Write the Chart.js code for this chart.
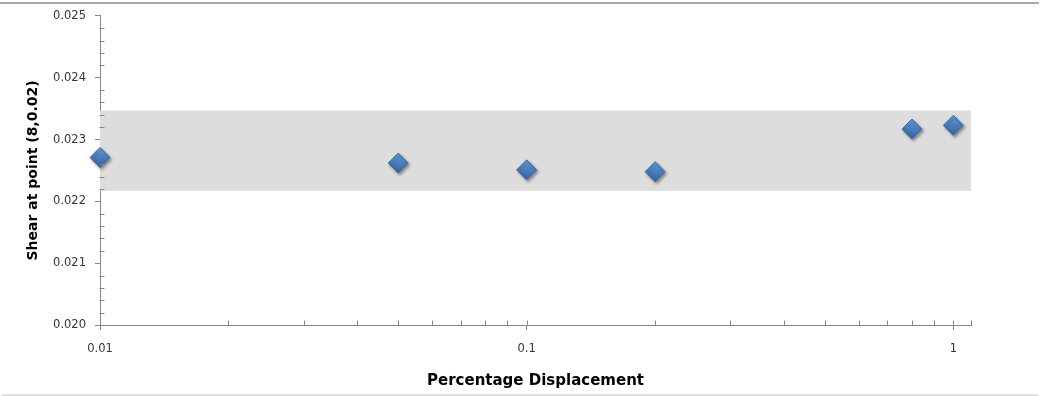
<!DOCTYPE html>
<html>
<head>
<meta charset="utf-8">
<title>Shear at point (8,0.02)</title>
<script src="https://cdn.jsdelivr.net/npm/chart.js@4.4.1/dist/chart.umd.min.js"></script>
<style>
  html, body { margin: 0; padding: 0; background: #ffffff; }
  #wrap { position: relative; width: 1047px; height: 396px; }
</style>
</head>
<body>
<div id="wrap"><canvas id="chart"></canvas></div>
<script>
// Measured shear values against displacement (log scale)
const displacement = [0.01, 0.05, 0.1, 0.2, 0.8, 1];
const shear = [0.02271, 0.02262, 0.02251, 0.02248, 0.02317, 0.02323];

// Shaded tolerance band
const bandSpan = [0.0098, 1.1];
const bandLow = [0.02217, 0.02217];
const bandHigh = [0.02347, 0.02347];

// Axis ticks
const xTickValues = [0.01, 0.1, 1];
const yTickValues = [0.020, 0.021, 0.022, 0.023, 0.024, 0.025];
const yMinorStep = 0.0002;
const xMinorMultipliers = [2, 3, 4, 5, 6, 7, 8, 9, 10];

const AXIS = '#868686';
const LABEL = '#353535';

// Excel-like inside minor ticks
const minorTicks = {
  id: 'minorTicks',
  afterDraw(chart) {
    const { ctx, scales: { x, y } } = chart;
    ctx.save();
    ctx.strokeStyle = AXIS;
    ctx.lineWidth = 1;
    ctx.beginPath();
    const x0 = Math.round(x.left) - 0.5;
    for (let v = y.min + yMinorStep; v < y.max + yMinorStep / 2; v += yMinorStep) {
      const isMajor = yTickValues.some(t => Math.abs(t - v) < yMinorStep / 10);
      if (isMajor) continue;
      const py = Math.round(y.getPixelForValue(v)) + 0.5;
      ctx.moveTo(x0, py);
      ctx.lineTo(x0 + 5, py);
    }
    const y0 = Math.round(y.bottom) + 0.5;
    const xs = [];
    xTickValues.forEach(d => xMinorMultipliers.forEach(m => xs.push(d * m)));
    xs.push(x.max);
    xs.forEach(v => {
      if (v <= x.min * 1.0001 || v > x.max * 1.0001) return;
      const px = Math.round(x.getPixelForValue(v)) + 0.5;
      ctx.moveTo(px, y0);
      ctx.lineTo(px, y0 - 5);
    });
    ctx.stroke();
    ctx.restore();
  }
};

// Frame lines and marker shadow
const frame = {
  id: 'frame',
  beforeDraw(chart) {
    const { ctx, height } = chart;
    ctx.save();
    ctx.strokeStyle = '#a8a8a8';
    ctx.lineWidth = 2;
    ctx.beginPath();
    ctx.moveTo(0, 3);
    ctx.lineTo(1039, 3);
    ctx.stroke();
    ctx.strokeStyle = '#d6d6d6';
    ctx.lineWidth = 1.5;
    ctx.beginPath();
    ctx.moveTo(2, height - 1);
    ctx.lineTo(1038, height - 1);
    ctx.stroke();
    ctx.restore();
  },
  beforeDatasetDraw(chart, args) {
    if (args.index !== 0) return;
    const ctx = chart.ctx;
    ctx.save();
    ctx.shadowColor = 'rgba(0,0,0,0.38)';
    ctx.shadowBlur = 3;
    ctx.shadowOffsetX = 1.5;
    ctx.shadowOffsetY = 2;
  },
  afterDatasetDraw(chart, args) {
    if (args.index !== 0) return;
    chart.ctx.restore();
  }
};

function diamondFill(c) {
  const s = c.chart.scales;
  if (!s || !s.y || !c.parsed) return '#4a7ebb';
  const py = s.y.getPixelForValue(c.parsed.y);
  if (!Number.isFinite(py)) return '#4a7ebb';
  const g = c.chart.ctx.createLinearGradient(0, py - 10, 0, py + 10);
  g.addColorStop(0, '#6b9ddb');
  g.addColorStop(0.5, '#4a7ebb');
  g.addColorStop(1, '#34639f');
  return g;
}

new Chart(document.getElementById('chart'), {
  type: 'scatter',
  data: {
    datasets: [
      {
        label: 'Shear',
        data: displacement.map((d, i) => ({ x: d, y: shear[i] })),
        pointStyle: 'rectRot',
        pointRadius: 10,
        pointHoverRadius: 10,
        pointBackgroundColor: diamondFill,
        pointBorderColor: '#3c6aa3',
        pointBorderWidth: 1,
        showLine: false,
        clip: false
      },
      {
        label: 'Band high',
        type: 'line',
        data: bandSpan.map((d, i) => ({ x: d, y: bandHigh[i] })),
        borderWidth: 0,
        borderColor: 'rgba(0,0,0,0)',
        pointRadius: 0,
        backgroundColor: '#dddddd',
        fill: '+1',
        clip: false
      },
      {
        label: 'Band low',
        type: 'line',
        data: bandSpan.map((d, i) => ({ x: d, y: bandLow[i] })),
        borderWidth: 0,
        borderColor: 'rgba(0,0,0,0)',
        pointRadius: 0,
        fill: false,
        clip: false
      }
    ]
  },
  options: {
    responsive: true,
    maintainAspectRatio: false,
    animation: false,
    events: [],
    layout: { padding: { top: 14, right: 76, left: 0, bottom: 0 } },
    plugins: {
      legend: { display: false },
      tooltip: { enabled: false }
    },
    scales: {
      x: {
        type: 'logarithmic',
        min: 0.01,
        max: 1.1,
        afterBuildTicks(scale) {
          scale.ticks = xTickValues.map(v => ({ value: v }));
        },
        afterFit(scale) { scale.height = 71; },
        border: { display: true, color: AXIS, width: 1 },
        grid: { display: true, drawOnChartArea: false, drawTicks: true, tickLength: 5, color: AXIS },
        ticks: {
          color: LABEL,
          font: { family: 'DejaVu Sans', size: 11.5 },
          padding: 12,
          maxRotation: 0,
          autoSkip: false,
          callback: v => String(v)
        },
        title: {
          display: true,
          text: 'Percentage Displacement',
          color: '#000000',
          font: { family: 'DejaVu Sans', size: 15, weight: 'bold' },
          padding: { top: 0, bottom: 6 }
        }
      },
      y: {
        type: 'linear',
        min: 0.020,
        max: 0.025,
        afterBuildTicks(scale) {
          scale.ticks = yTickValues.map(v => ({ value: v }));
        },
        afterFit(scale) { scale.width = 100; },
        border: { display: true, color: AXIS, width: 1 },
        grid: { display: true, drawOnChartArea: false, drawTicks: true, tickLength: 5, color: AXIS },
        ticks: {
          color: LABEL,
          font: { family: 'DejaVu Sans', size: 11.5 },
          padding: 9,
          callback: v => Number(v).toFixed(3)
        },
        title: {
          display: true,
          text: 'Shear at point (8,0.02)',
          color: '#000000',
          font: { family: 'DejaVu Sans', size: 14, weight: 'bold' },
          padding: { top: 25, bottom: 0 }
        }
      }
    }
  },
  plugins: [frame, minorTicks]
});
</script>
</body>
</html>
